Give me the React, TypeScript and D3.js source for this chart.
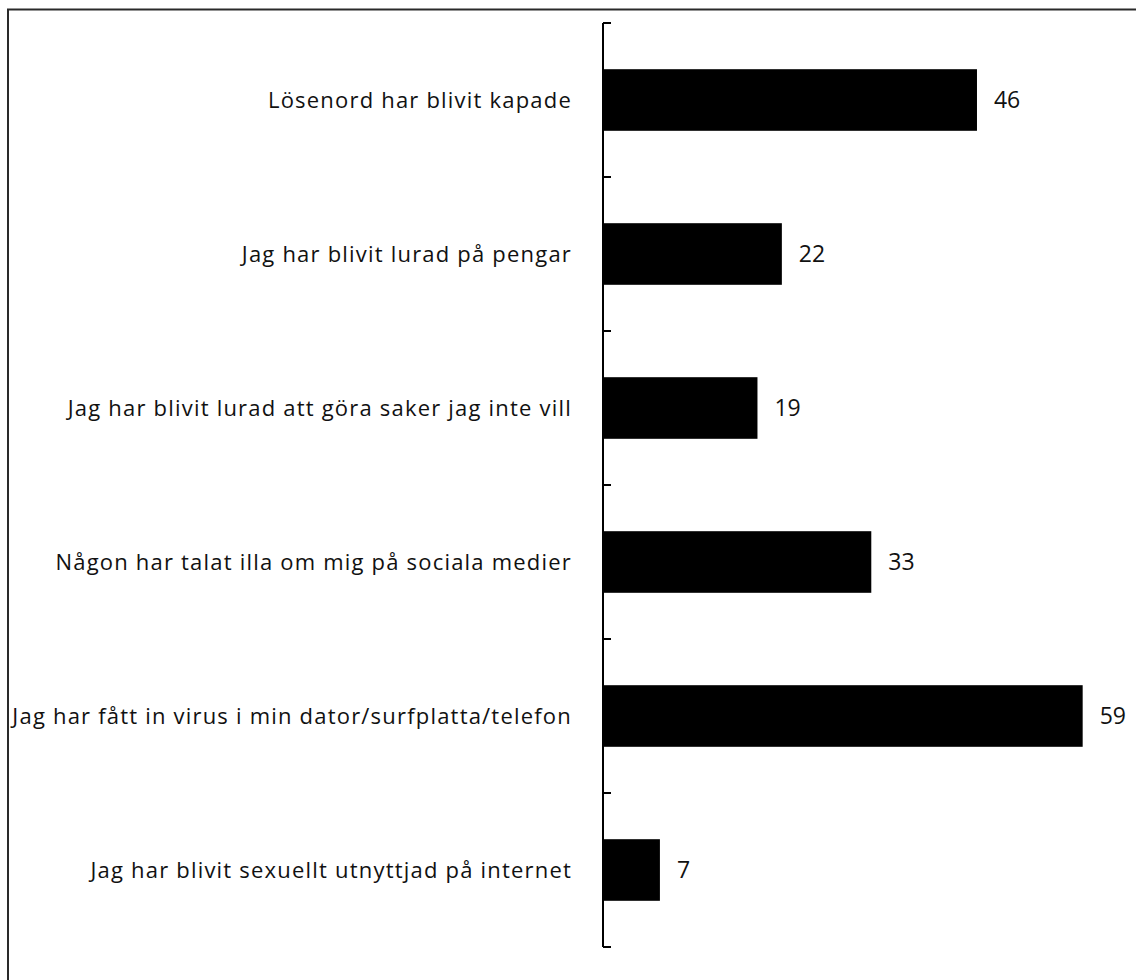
import React from "react";
import * as d3 from "d3";

const categories = [
  "Lösenord har blivit kapade",
  "Jag har blivit lurad på pengar",
  "Jag har blivit lurad att göra saker jag inte vill",
  "Någon har talat illa om mig på sociala medier",
  "Jag har fått in virus i min dator/surfplatta/telefon",
  "Jag har blivit sexuellt utnyttjad på internet",
];
const values = [46, 22, 19, 33, 59, 7];

export default function App() {
  const W = 1136;
  const H = 980;
  const axisX = 603;
  const x = d3.scaleLinear().domain([0, 100]).range([axisX, axisX + 813]);
  const y = d3
    .scaleBand<string>()
    .domain(categories)
    .range([23, 947])
    .paddingInner(0.6)
    .paddingOuter(0.3);
  const step = y.step();
  const bounds = d3.range(categories.length + 1).map((i) => y.range()[0] + i * step);
  const font = "'Open Sans', 'Liberation Sans', sans-serif";

  return (
    <svg
      width={W}
      height={H}
      style={{ position: "absolute", left: 0, top: 0, background: "#fff" }}
    >
      <rect x={8} y={9.5} width={W + 10} height={H + 10} fill="none" stroke="#2a2a2a" strokeWidth={2} />
      {categories.map((c, i) => (
        <g key={c}>
          <rect
            x={x(0)}
            y={y(c)!}
            width={x(values[i]) - x(0)}
            height={y.bandwidth()}
            fill="#000"
          />
          <text
            x={x(values[i]) + 17}
            y={y(c)! + y.bandwidth() / 2}
            dy="0.36em"
            fontFamily={font}
            fontSize={23}
            fill="#111"
          >
            {values[i]}
          </text>
          <text
            x={572}
            y={y(c)! + y.bandwidth() / 2}
            dy="0.35em"
            textAnchor="end"
            fontFamily={font}
            fontSize={22}
            letterSpacing={1.2}
            fill="#111"
          >
            {c}
          </text>
        </g>
      ))}
      <line x1={axisX} x2={axisX} y1={bounds[0]} y2={bounds[bounds.length - 1]} stroke="#000" strokeWidth={2} />
      {bounds.map((b, i) => (
        <line key={i} x1={axisX} x2={axisX + 8} y1={b} y2={b} stroke="#000" strokeWidth={2} />
      ))}
    </svg>
  );
}
